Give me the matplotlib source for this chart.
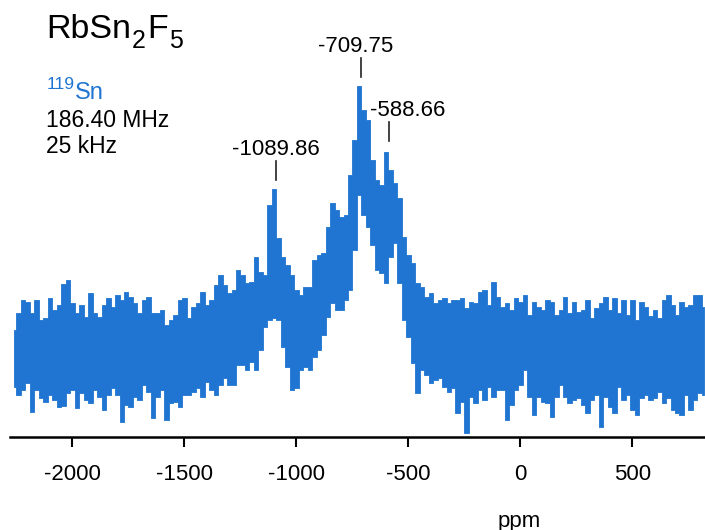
import numpy as np
import matplotlib
matplotlib.use("Agg")
import matplotlib.pyplot as plt

plt.rcParams['font.family'] = 'Liberation Sans'
plt.rcParams['axes.unicode_minus'] = False

# 119Sn spectrum: upper / lower envelope every 20 ppm
ppm = np.arange(-2260, 821, 20)
upper = [25, 42, 55, 53, 42, 55, 35, 37, 57, 45,
         50, 71, 75, 52, 42, 50, 38, 62, 42, 38,
         50, 57, 48, 60, 55, 63, 58, 52, 42, 55,
         58, 42, 42, 45, 30, 35, 40, 55, 57, 37,
         48, 52, 63, 50, 55, 70, 80, 70, 62, 65,
         85, 80, 72, 73, 98, 83, 80, 150, 166, 117,
         98, 90, 80, 65, 60, 68, 68, 95, 100, 102,
         128, 152, 145, 138, 140, 180, 215, 269, 245, 235,
         195, 175, 170, 203, 185, 172, 157, 118, 100, 92,
         72, 68, 58, 62, 52, 55, 57, 52, 55, 55,
         57, 47, 53, 52, 63, 65, 50, 73, 58, 48,
         52, 45, 57, 53, 60, 40, 53, 48, 45, 55,
         53, 40, 45, 58, 42, 53, 43, 45, 55, 37,
         47, 52, 58, 45, 57, 42, 55, 40, 55, 35,
         53, 48, 39, 45, 37, 55, 60, 50, 40, 53,
         48, 50, 60, 60, 48]
lower = [-32, -40, -35, -28, -57, -35, -43, -47, -40, -45,
         -52, -51, -38, -35, -53, -38, -45, -48, -35, -42,
         -55, -40, -33, -40, -67, -50, -52, -42, -45, -30,
         -37, -63, -42, -35, -65, -48, -47, -52, -40, -40,
         -37, -33, -42, -27, -35, -40, -30, -23, -30, -30,
         -10, -10, -15, -7, -15, 5, 28, 35, 37, 35,
         8, -12, -35, -33, -15, -12, -15, -2, 5, 20,
         38, 52, 45, 45, 55, 65, 105, 160, 140, 128,
         110, 85, 82, 72, 98, 112, 72, 35, 18, -8,
         -38, -15, -20, -28, -25, -23, -32, -37, -33, -58,
         -47, -78, -42, -48, -35, -45, -32, -42, -35, -35,
         -65, -50, -35, -30, -15, -42, -60, -42, -47, -48,
         -62, -42, -30, -42, -48, -45, -43, -50, -58, -45,
         -40, -72, -42, -52, -58, -32, -45, -40, -55, -60,
         -43, -40, -45, -43, -37, -48, -43, -55, -58, -60,
         -40, -55, -45, -38, -40]

peak_ppm = [-1089.86, -709.75, -588.66]
peak_top = [166, 269, 205]
peak_labels = ['-1089.86', '-709.75', '-588.66']
label_shift = [0, -25, 85]

xticks = [-2000, -1500, -1000, -500, 0, 500]

blue = '#1f75d1'
W, H = 705, 530


def fx(px):
    return px / W


def fy(py):
    return 1 - py / H


fig = plt.figure(figsize=(W / 100, H / 100), dpi=100)
ax = fig.add_axes([fx(10), 93 / H, 695 / W, 437 / H])

# dense raw trace drawn as the band between its two envelopes
ax.fill_between(ppm, lower, upper, step='mid', color=blue, lw=0.6)

for p, h, lab, dx in zip(peak_ppm, peak_top, peak_labels, label_shift):
    ax.plot([p, p], [h + 9, h + 28], color='#222222', lw=1.2)
    ax.text(p + dx, h + 34, lab, ha='center', va='baseline', fontsize=16)

ax.set_xlim(-2279, 824)
ax.set_ylim(-82, 355)
ax.set_xticks(xticks)
ax.set_yticks([])
for s in ['left', 'right', 'top']:
    ax.spines[s].set_visible(False)
ax.spines['bottom'].set_linewidth(1.8)
ax.tick_params(axis='x', direction='out', length=7.5, width=1.5, pad=12, labelsize=16)

fig.text(fx(519), fy(521), 'ppm', ha='center', va='center', fontsize=16)

# sample / acquisition text
fig.text(fx(46), fy(38), 'RbSn', fontsize=24.5, va='baseline')
fig.text(fx(132), fy(48), '2', fontsize=18, va='baseline')
fig.text(fx(147), fy(38), 'F', fontsize=24.5, va='baseline')
fig.text(fx(169), fy(48), '5', fontsize=18, va='baseline')
fig.text(fx(47), fy(89), '119', fontsize=12.5, va='baseline', color=blue)
fig.text(fx(75), fy(99), 'Sn', fontsize=17, va='baseline', color=blue)
fig.text(fx(46), fy(127), '186.40 MHz', fontsize=16.5, va='baseline')
fig.text(fx(46), fy(153), '25 kHz', fontsize=16.5, va='baseline')

fig.savefig('out.png', dpi=100)
